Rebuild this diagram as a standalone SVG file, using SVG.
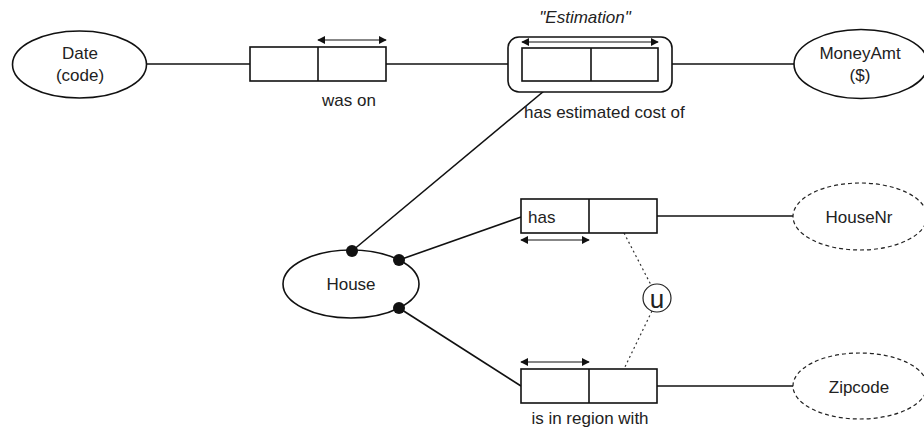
<svg xmlns="http://www.w3.org/2000/svg" width="924" height="430" viewBox="0 0 924 430">
  <style>
    text { font-family: "Liberation Sans", Arial, sans-serif; font-size: 17px; fill: #222; }
    .mid { text-anchor: middle; }
    .big { font-size: 26px; }
    .shape { fill: #fff; stroke: #111; stroke-width: 1.6; }
    .dashed { fill: #fff; stroke: #222; stroke-width: 1.2; stroke-dasharray: 4 3; }
    .link { fill: none; stroke: #111; stroke-width: 1.6; }
    .dot-link { fill: none; stroke: #333; stroke-width: 1.2; stroke-dasharray: 2 3; }
    .span { fill: none; stroke: #111; stroke-width: 1.2; marker-start: url(#head); marker-end: url(#head); }
    .role { fill: #111; }
  </style>
  <defs>
    <marker id="head" viewBox="0 0 10 10" refX="9" refY="5" markerWidth="8" markerHeight="8" markerUnits="userSpaceOnUse" orient="auto-start-reverse">
      <path d="M0,0 L10,5 L0,10 Z" fill="#111"/>
    </marker>
  </defs>

  <!-- connectors -->
  <g id="connectors">
    <line class="link" x1="147" y1="64" x2="250" y2="64"/>
    <line class="link" x1="386" y1="64" x2="508" y2="64"/>
    <line class="link" x1="672" y1="64" x2="794" y2="64"/>
    <line class="link" x1="556" y1="81" x2="352" y2="251"/>
    <line class="link" x1="399" y1="260" x2="521" y2="217"/>
    <line class="link" x1="399" y1="308" x2="521" y2="386"/>
    <line class="link" x1="657" y1="216" x2="793" y2="216"/>
    <line class="link" x1="657" y1="386" x2="793" y2="386"/>
    <line class="dot-link" x1="624" y1="233" x2="651" y2="285"/>
    <line class="dot-link" x1="652" y1="311" x2="624" y2="369"/>
  </g>

  <!-- object types -->
  <g id="date">
    <ellipse class="shape" cx="79.5" cy="64.5" rx="67" ry="33.5"/>
    <text class="mid" x="80" y="59">Date</text>
    <text class="mid" x="80" y="81">(code)</text>
  </g>
  <g id="moneyamt">
    <ellipse class="shape" cx="861" cy="64" rx="67" ry="34.5"/>
    <text class="mid" x="860" y="59">MoneyAmt</text>
    <text class="mid" x="860" y="81">($)</text>
  </g>
  <g id="house">
    <ellipse class="shape" cx="351" cy="284" rx="68" ry="34"/>
    <text class="mid" x="351" y="290">House</text>
  </g>
  <g id="housenr">
    <ellipse class="dashed" cx="860" cy="216.5" rx="67" ry="33.5"/>
    <text class="mid" x="859" y="223">HouseNr</text>
  </g>
  <g id="zipcode">
    <ellipse class="dashed" cx="860" cy="386" rx="67" ry="33"/>
    <text class="mid" x="859" y="393">Zipcode</text>
  </g>

  <!-- fact types -->
  <g id="was-on">
    <rect class="shape" x="250" y="47" width="136" height="34"/>
    <line class="link" x1="318" y1="47" x2="318" y2="81"/>
    <line class="span" x1="318" y1="40" x2="386" y2="40"/>
    <text class="mid" x="349" y="106">was on</text>
  </g>
  <g id="estimation">
    <text class="mid" x="585" y="23" font-style="italic">"Estimation"</text>
    <rect class="shape" x="508" y="37" width="164" height="55" rx="11" ry="11"/>
    <rect class="shape" x="522" y="48" width="136" height="33"/>
    <line class="link" x1="591" y1="48" x2="591" y2="81"/>
    <line class="span" x1="522" y1="42" x2="658" y2="42"/>
    <text x="524" y="118">has estimated cost of</text>
  </g>
  <g id="has">
    <rect class="shape" x="521" y="199" width="136" height="34"/>
    <line class="link" x1="589" y1="199" x2="589" y2="233"/>
    <line class="span" x1="521" y1="240" x2="589" y2="240"/>
    <text x="528" y="223">has</text>
  </g>
  <g id="is-in-region-with">
    <rect class="shape" x="521" y="369" width="136" height="34"/>
    <line class="link" x1="589" y1="369" x2="589" y2="403"/>
    <line class="span" x1="521" y1="362" x2="589" y2="362"/>
    <text class="mid" x="590" y="424">is in region with</text>
  </g>

  <!-- uniqueness constraint -->
  <g id="uniqueness">
    <circle fill="#fff" stroke="#222" stroke-width="1.2" cx="657" cy="298" r="14"/>
    <text class="mid big" x="657" y="308">u</text>
  </g>

  <!-- mandatory role dots -->
  <g id="mandatory-dots">
    <circle class="role" cx="352" cy="251" r="6"/>
    <circle class="role" cx="399" cy="260" r="6"/>
    <circle class="role" cx="399" cy="308" r="6"/>
  </g>
</svg>
